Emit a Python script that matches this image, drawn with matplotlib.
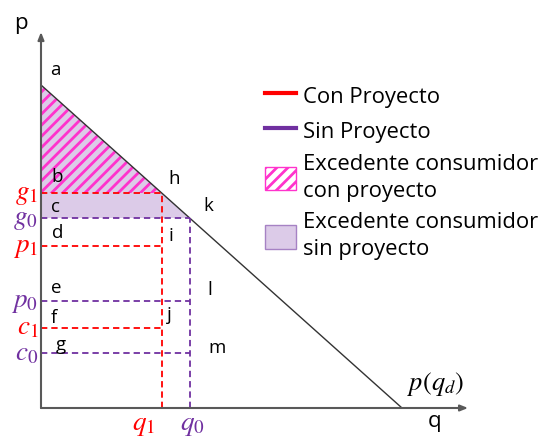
import matplotlib
matplotlib.use("Agg")
import matplotlib.pyplot as plt
from matplotlib.lines import Line2D
from matplotlib.patches import Patch

# ---- data ----
demand_q = [0.0, 10.0]          # p(q_d) endpoints
demand_p = [10.0, 0.0]
q1 = 3.35                        # quantity with project
q0 = 4.13                        # quantity without project
g1, p1, c1 = 6.65, 5.02, 2.48    # with project (red)
g0, p0, c0 = 5.87, 3.31, 1.70    # without project (purple)

red_levels = [g1, p1, c1]
purple_levels = [g0, p0, c0]
red_names = [r"$g_1$", r"$p_1$", r"$c_1$"]
purple_names = [r"$g_0$", r"$p_0$", r"$c_0$"]

point_letters = ["a", "b", "c", "d", "e", "f", "g", "h", "k", "i", "l", "j", "m"]
point_q = [0.25, 0.30, 0.28, 0.30, 0.28, 0.28, 0.42, 3.52, 4.49, 3.52, 4.60, 3.49, 4.65]
point_p = [10.46, 7.15, 6.22, 5.42, 3.72, 2.79, 1.95, 7.09, 6.25, 5.33, 3.65, 2.88, 1.86]

legend_labels = ["Con Proyecto", "Sin Proyecto",
                 "Excedente consumidor\ncon proyecto",
                 "Excedente consumidor\nsin proyecto"]

RED = "#ff0000"
PURPLE = "#7030a0"
LAVENDER = "#dccbe8"
MAGENTA = "#ff33cc"
AXIS = "#595959"

plt.rcParams["font.family"] = ["Open Sans", "DejaVu Sans"]
plt.rcParams["mathtext.fontset"] = "stix"
plt.rcParams["hatch.linewidth"] = 2.0

fig = plt.figure(figsize=(5.44, 4.37), dpi=100)
ax = fig.add_axes([41 / 544, 29 / 437, 361 / 544, 323 / 437])
ax.set_xlim(0, 10)
ax.set_ylim(0, 10)
ax.axis("off")

def demand(q):
    return demand_p[0] + (demand_p[1] - demand_p[0]) * (q - demand_q[0]) / (demand_q[1] - demand_q[0])

# consumer surplus without project (lavender) and with project (hatched)
ax.fill([0, 0, q0], [demand(0), g0, g0], color=LAVENDER, lw=0, zorder=1)
ax.fill([0, 0, q1], [demand(0), g1, g1], facecolor="none", edgecolor=MAGENTA,
        hatch="///", lw=0, zorder=2)

# demand line
ax.plot(demand_q, demand_p, color="#333333", lw=1.0, zorder=4, clip_on=False)

dash = (0, (3.5, 2.2))
# horizontal dashed lines
for lv in red_levels:
    ax.plot([0, q1], [lv, lv], color=RED, lw=1.3, ls=dash, zorder=5)
for lv in purple_levels:
    ax.plot([0, q0], [lv, lv], color=PURPLE, lw=1.3, ls=dash, zorder=5)
# vertical dashed lines
ax.plot([q1, q1], [0, g1], color=RED, lw=1.3, ls=dash, zorder=6)
ax.plot([q0, q0], [0, g0], color=PURPLE, lw=1.3, ls=dash, zorder=5)

# axes with arrows
arrow = dict(arrowstyle="-|>,head_length=0.45,head_width=0.18", color=AXIS, lw=1.5,
             shrinkA=0, shrinkB=0)
ax.annotate("", xy=(11.83, 0), xytext=(0, 0), arrowprops=arrow, annotation_clip=False, zorder=7)
ax.annotate("", xy=(0, 11.64), xytext=(0, 0), arrowprops=arrow, annotation_clip=False, zorder=7)
ax.text(-0.55, 11.89, "p", fontsize=16, ha="center", va="center", clip_on=False)
ax.text(10.91, -0.43, "q", fontsize=16, ha="center", va="center", clip_on=False)
ax.text(10.94, 0.74, r"$p(q_d)$", fontsize=19, ha="center", va="center", clip_on=False)

# price labels on the p axis
for lv, nm in zip(red_levels, red_names):
    ax.text(-0.08, lv, nm, color=RED, fontsize=19.5, ha="right", va="center", clip_on=False)
for lv, nm in zip(purple_levels, purple_names):
    ax.text(-0.08, lv, nm, color=PURPLE, fontsize=19.5, ha="right", va="center", clip_on=False)

# quantity labels
ax.text(q1 - 0.5, -0.06, r"$q_1$", color=RED, fontsize=19.5, ha="center", va="top", clip_on=False)
ax.text(q0 + 0.05, -0.06, r"$q_0$", color=PURPLE, fontsize=19.5, ha="center", va="top", clip_on=False)

# point letters
for t, x, y in zip(point_letters, point_q, point_p):
    ax.text(x, y, t, fontsize=13.5, ha="left", va="center", zorder=8)

# legend
handles = [Line2D([], [], color=RED, lw=3),
           Line2D([], [], color=PURPLE, lw=3),
           Patch(facecolor="white", edgecolor=MAGENTA, hatch="///", lw=1),
           Patch(facecolor=LAVENDER, edgecolor="#a682c4", lw=1)]
leg = fig.legend(handles, legend_labels, loc="upper left",
                 bbox_to_anchor=(265 / 544, 1 - 84 / 437), frameon=False,
                 fontsize=15.8, handlelength=1.42, handleheight=1.25, handletextpad=0.32,
                 labelspacing=0.5, borderpad=0, borderaxespad=0)
for t in leg.get_texts():
    t.set_linespacing(1.35)

fig.savefig("out.png", dpi=100)
